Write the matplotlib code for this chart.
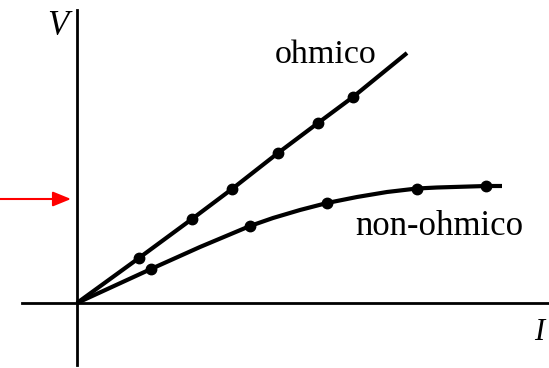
import matplotlib
matplotlib.use("Agg")
import matplotlib.pyplot as plt

# (origin at the axes crossing)
ohm_I = [0.0, 0.62, 1.15, 1.55, 2.01, 2.41, 2.76, 3.30]
ohm_V = [0.0, 0.45, 0.84, 1.14, 1.50, 1.80, 2.06, 2.50]
ohm_dots = [1, 2, 3, 4, 5, 6]  # indices that carry a dot

non_I = [0.0, 0.74, 1.23, 1.73, 1.96, 2.23, 2.50, 2.80, 3.10, 3.40, 3.60, 4.09, 4.25]
non_V = [0.0, 0.34, 0.56, 0.77, 0.85, 0.93, 1.00, 1.06, 1.11, 1.145, 1.155, 1.17, 1.17]
non_dots = [1, 3, 6, 9, 11]

labels = {"ohm": "ohmico", "non": "non-ohmico", "x": "I", "y": "V"}

fig = plt.figure(figsize=(5.49, 3.68), dpi=100)
ax = fig.add_axes([0, 0, 1, 1])
ax.set_xlim(-0.77, 4.72)
ax.set_ylim(-0.65, 3.03)
ax.set_xticks([])
ax.set_yticks([])

for s in ["top", "right"]:
    ax.spines[s].set_visible(False)
ax.spines["left"].set_position(("data", 0))
ax.spines["bottom"].set_position(("data", 0))
ax.spines["left"].set_bounds(-0.62, 2.93)
ax.spines["bottom"].set_bounds(-0.55, 4.72)
for s in ["left", "bottom"]:
    ax.spines[s].set_linewidth(2.0)
    ax.spines[s].set_color("black")

ax.plot(ohm_I, ohm_V, color="black", lw=3.0, solid_capstyle="butt",
        marker="o", markevery=ohm_dots, ms=7.5)
ax.plot(non_I, non_V, color="black", lw=3.0, solid_capstyle="butt",
        solid_joinstyle="round", marker="o", markevery=non_dots, ms=7.5)

serif = ["Liberation Serif", "DejaVu Serif"]
ax.text(1.98, 2.40, labels["ohm"], fontsize=24.5, family=serif, va="baseline")
ax.text(2.78, 0.68, labels["non"], fontsize=25, family=serif, va="baseline")
ax.text(-0.30, 2.68, labels["y"], fontsize=25, family=serif,
        style="italic", va="baseline")
ax.text(4.57, -0.37, labels["x"], fontsize=22, family=serif,
        style="italic", va="baseline")

# red pointer on the V axis
ax.annotate("", xy=(71 / 549, 1 - 199 / 368), xytext=(0, 1 - 199 / 368),
            xycoords="figure fraction", textcoords="figure fraction",
            arrowprops=dict(arrowstyle="-|>,head_length=1.1,head_width=0.45",
                            color="#ff0000", lw=1.5, shrinkA=0, shrinkB=0))

fig.savefig("out.png", dpi=100)
